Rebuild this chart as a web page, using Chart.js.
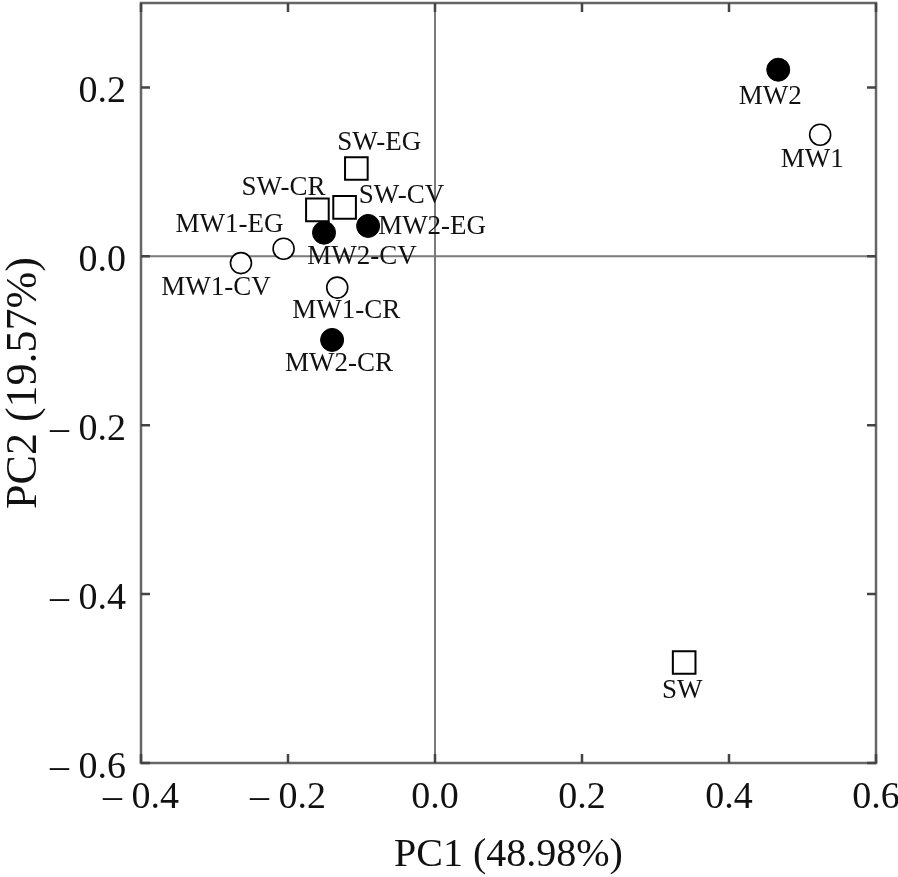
<!DOCTYPE html>
<html lang="en">
<head>
    <meta charset="UTF-8">
    <title>PCA</title>
    <script src="https://cdn.jsdelivr.net/npm/chart.js@4.4.3/dist/chart.umd.min.js"></script>
    <style>
        * {
            margin: 0;
            padding: 0;
        }
        body {
            background: white;
        }
    </style>
</head>
<body>
<canvas id="myChart" width="898" height="877"></canvas>
<script>
    // samples, PC1 / PC2 scores
    const openNames = ['MW1', 'MW1-EG', 'MW1-CV', 'MW1-CR'];
    const openPC1 = [0.524, -0.206, -0.264, -0.133];
    const openPC2 = [0.144, 0.009, -0.008, -0.037];

    const filledNames = ['MW2', 'MW2-EG', 'MW2-CV', 'MW2-CR'];
    const filledPC1 = [0.467, -0.091, -0.151, -0.140];
    const filledPC2 = [0.221, 0.036, 0.028, -0.099];

    const squareNames = ['SW', 'SW-EG', 'SW-CR', 'SW-CV'];
    const squarePC1 = [0.339, -0.107, -0.160, -0.123];
    const squarePC2 = [-0.481, 0.104, 0.055, 0.058];

    const xTicks = [-0.4, -0.2, 0, 0.2, 0.4, 0.6];
    const yTicks = [-0.6, -0.4, -0.2, 0, 0.2];

    const xTitle = 'PC1 (48.98%)';
    const yTitle = 'PC2 (19.57%)';

    // label offset from the point centre, in px
    const labelOffset = {
        'MW2': [-8, 27], 'MW1': [-8, 25], 'SW': [-2, 28],
        'SW-EG': [23, -26], 'SW-CR': [-34, -22], 'SW-CV': [57, -11],
        'MW2-EG': [64, 1], 'MW2-CV': [38, 24], 'MW1-EG': [-54, -24],
        'MW1-CV': [-25, 25], 'MW1-CR': [9, 23], 'MW2-CR': [7, 24]
    };

    const serif = "'Liberation Serif', 'Times New Roman', serif";

    const toPoints = (names, xs, ys) => names.map((n, i) => ({ x: xs[i], y: ys[i], name: n }));

    const fmt = (v) => {
        if (Math.abs(v) < 1e-9) return '0.0';
        return (v < 0 ? '\u2013 ' : '') + Math.abs(v).toFixed(1);
    };

    // keep the plot box where the reference has it
    const noPad = (s) => {
        s.paddingTop = 0; s.paddingBottom = 0;
        s.paddingLeft = 0; s.paddingRight = 0;
    };

    const framePlugin = {
        id: 'frame',
        beforeDatasetsDraw(chart) {
            const { ctx, chartArea: a, scales: { x, y } } = chart;
            ctx.save();
            // zero lines
            const x0 = x.getPixelForValue(0);
            const y0 = y.getPixelForValue(0);
            ctx.strokeStyle = '#7a7a7a';
            ctx.lineWidth = 2;
            ctx.beginPath();
            ctx.moveTo(x0, a.top); ctx.lineTo(x0, a.bottom);
            ctx.moveTo(a.left, y0); ctx.lineTo(a.right, y0);
            ctx.stroke();
            // box
            ctx.strokeStyle = '#666';
            ctx.lineWidth = 2.5;
            ctx.strokeRect(a.left, a.top, a.right - a.left, a.bottom - a.top);
            // inward ticks on all sides
            const len = 9;
            ctx.strokeStyle = '#444';
            ctx.beginPath();
            x.ticks.forEach(t => {
                const px = x.getPixelForValue(t.value);
                ctx.moveTo(px, a.bottom); ctx.lineTo(px, a.bottom - len);
                ctx.moveTo(px, a.top); ctx.lineTo(px, a.top + len);
            });
            y.ticks.forEach(t => {
                const py = y.getPixelForValue(t.value);
                ctx.moveTo(a.left, py); ctx.lineTo(a.left + len, py);
                ctx.moveTo(a.right, py); ctx.lineTo(a.right - len, py);
            });
            ctx.stroke();
            ctx.restore();
        },
        afterDatasetsDraw(chart) {
            const ctx = chart.ctx;
            ctx.save();
            ctx.font = '27px ' + serif;
            ctx.fillStyle = '#111';
            ctx.textAlign = 'center';
            ctx.textBaseline = 'middle';
            chart.data.datasets.forEach((ds, i) => {
                const meta = chart.getDatasetMeta(i);
                meta.data.forEach((el, j) => {
                    const name = ds.data[j].name;
                    const off = labelOffset[name] || [0, 25];
                    ctx.fillText(name, el.x + off[0], el.y + off[1]);
                });
            });
            ctx.restore();
        }
    };

    const ctx = document.getElementById('myChart').getContext('2d');
    new Chart(ctx, {
        type: 'scatter',
        data: {
            datasets: [
                {
                    label: 'MW2',
                    data: toPoints(filledNames, filledPC1, filledPC2),
                    pointStyle: 'circle',
                    pointRadius: 11.5,
                    backgroundColor: '#000',
                    borderColor: '#000',
                    borderWidth: 1
                },
                {
                    label: 'MW1',
                    data: toPoints(openNames, openPC1, openPC2),
                    pointStyle: 'circle',
                    pointRadius: 10.5,
                    backgroundColor: '#fff',
                    borderColor: '#000',
                    borderWidth: 1.6
                },
                {
                    label: 'SW',
                    data: toPoints(squareNames, squarePC1, squarePC2),
                    pointStyle: 'rect',
                    pointRadius: 16,
                    backgroundColor: '#fff',
                    borderColor: '#000',
                    borderWidth: 2
                }
            ]
        },
        options: {
            responsive: false,
            devicePixelRatio: 1,
            animation: false,
            layout: {
                autoPadding: false,
                padding: { top: 3, right: 22, left: 0, bottom: 0 }
            },
            plugins: {
                legend: { display: false },
                tooltip: { enabled: false }
            },
            scales: {
                x: {
                    type: 'linear',
                    min: -0.4,
                    max: 0.6,
                    afterBuildTicks: (s) => { s.ticks = xTicks.map(v => ({ value: v })); },
                    afterFit: (s) => { s.height = 114; noPad(s); },
                    grid: { display: false, drawTicks: false },
                    border: { display: false },
                    ticks: {
                        padding: 12,
                        color: '#111',
                        font: { family: serif, size: 38 },
                        maxRotation: 0,
                        autoSkip: false,
                        callback: fmt
                    },
                    title: {
                        display: true,
                        text: xTitle,
                        color: '#111',
                        font: { family: serif, size: 40, lineHeight: 1 },
                        padding: { top: 0, bottom: 2 }
                    }
                },
                y: {
                    type: 'linear',
                    min: -0.6,
                    max: 0.3,
                    afterBuildTicks: (s) => { s.ticks = yTicks.map(v => ({ value: v })); },
                    afterFit: (s) => { s.width = 141; noPad(s); },
                    grid: { display: false, drawTicks: false },
                    border: { display: false },
                    ticks: {
                        padding: 15,
                        labelOffset: 5,
                        color: '#111',
                        font: { family: serif, size: 38 },
                        autoSkip: false,
                        callback: fmt
                    },
                    title: {
                        display: true,
                        text: yTitle,
                        color: '#111',
                        font: { family: serif, size: 44, lineHeight: 1 },
                        padding: { top: 2, bottom: 0 }
                    }
                }
            }
        },
        plugins: [framePlugin]
    });
</script>
</body>
</html>
